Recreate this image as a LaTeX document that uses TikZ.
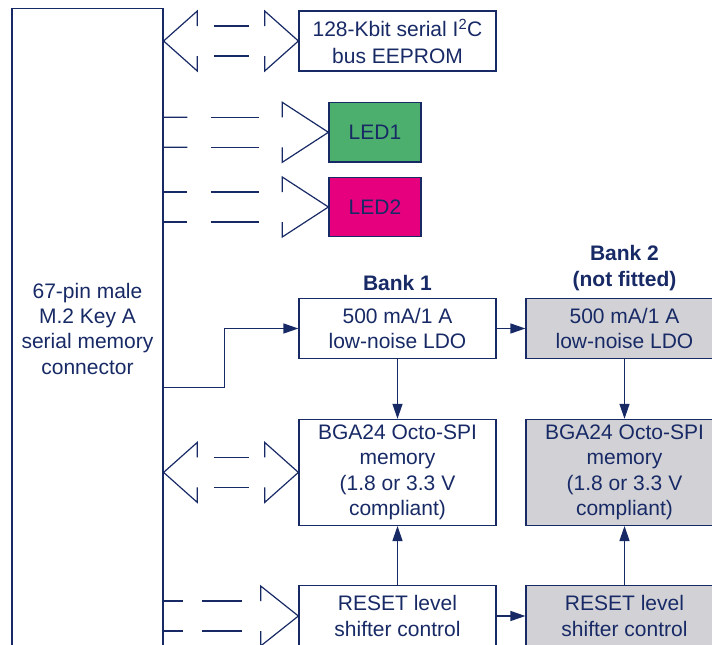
\documentclass[tikz,border=0pt]{standalone}
\usepackage{fontspec}
\setmainfont{Liberation Sans}
\usepackage{tikz}
\usetikzlibrary{positioning,calc,arrows.meta}
\definecolor{stnavy}{RGB}{24,42,102}
\definecolor{ledgreen}{RGB}{76,175,110}
\definecolor{ledpink}{RGB}{230,0,126}
\definecolor{nfgray}{RGB}{210,210,214}

\begin{document}
\begin{tikzpicture}[
    x=1pt, y=-1pt,
    font=\fontsize{21}{25.5}\selectfont,
    every node/.style={text=stnavy},
    block/.style={rectangle, draw=stnavy, line width=1.2pt, fill=white, align=center, minimum width=197pt, inner sep=0pt},
    unfitted/.style={block, fill=nfgray},
    led/.style={rectangle, draw=stnavy, line width=1.2pt, minimum width=92pt, minimum height=59.5pt},
    arrow/.style={-{Triangle[length=15pt, width=10pt]}, draw=stnavy, line width=1.2pt},
    bus/.style={draw=stnavy, line width=1.2pt},
    bank/.style={font=\fontsize{21}{25.7}\selectfont\bfseries, align=center}
]
\useasboundingbox (0,0) rectangle (712,645);
\clip (0,0) rectangle (712,645);

% Connector
\node[block, minimum width=151pt, minimum height=640pt, font=\fontsize{21}{25.3}\selectfont] (conn) at (87.5,328.7) {67-pin male\\M.2 Key A\\serial memory\\connector};

% EEPROM and LEDs
\node[block, minimum height=60pt, font=\fontsize{21}{26.5}\selectfont] (eeprom) at (397.5,41) {128-Kbit serial I\textsuperscript{2}C\\bus EEPROM};
\node[led, fill=ledgreen] (led1) at (375,132.3) {LED1};
\node[led, fill=ledpink] (led2) at (375,207) {LED2};

% Bank 1
\node[bank] (bank1) at (397.5,283.3) {Bank 1};
\node[block, minimum height=60pt] (ldo1) at (397.5,328.5) {500 mA/1 A\\low-noise LDO};
\node[block, minimum height=106pt] (bga1) at (397.5,472.4) {BGA24 Octo-SPI\\memory\\(1.8 or 3.3 V\\compliant)};
\node[block, minimum height=61pt] (rst1) at (397.5,616) {RESET level\\shifter control};

% Bank 2
\node[bank] (bank2) at (624.5,268) {Bank 2\\(not fitted)};
\node[unfitted, minimum height=60pt] (ldo2) at (624.5,328.5) {500 mA/1 A\\low-noise LDO};
\node[unfitted, minimum height=106pt] (bga2) at (624.5,472.4) {BGA24 Octo-SPI\\memory\\(1.8 or 3.3 V\\compliant)};
\node[unfitted, minimum height=61pt] (rst2) at (624.5,616) {RESET level\\shifter control};

% Power and reset paths
\coordinate (tap) at (conn.east |- 0,387.7);
\draw[arrow] (tap) -- ++(61,0) |- (ldo1.west);
\draw[arrow] (ldo1) -- (ldo2);
\draw[arrow] (ldo1) -- (bga1);
\draw[arrow] (ldo2) -- (bga2);
\draw[arrow] (rst1) -- (bga1);
\draw[arrow] (rst2) -- (bga2);
\draw[arrow] (rst1) -- (rst2);

% Bidirectional buses
\foreach \dest/\hh/\sh in {eeprom/30/15, bga1/30/15} {
  \coordinate (l) at (conn.east |- \dest.west);
  \coordinate (r) at (\dest.west);
  \draw[bus] ($(l)!0.25!(r)+(0,-\sh)$) -- ++(0,\sh-\hh) -- (l) -- ($(l)!0.25!(r)+(0,\hh)$) -- ++(0,\sh-\hh);
  \draw[bus] ($(l)!0.75!(r)+(0,-\sh)$) -- ++(0,\sh-\hh) -- (r) -- ($(l)!0.75!(r)+(0,\hh)$) -- ++(0,\sh-\hh);
  \foreach \s in {-1,1}
    \draw[bus] ($(l)!0.375!(r)+(0,\s*\sh)$) -- ($(l)!0.632!(r)+(0,\s*\sh)$);
}

% Output buses
\foreach \dest/\hh/\sh in {led1/30/15, led2/30/15, rst1/30/15} {
  \coordinate (l) at (conn.east |- \dest.west);
  \coordinate (r) at (\dest.west);
  \draw[bus] ($(l)!0.72!(r)+(0,-\sh)$) -- ++(0,\sh-\hh) -- (r) -- ($(l)!0.72!(r)+(0,\hh)$) -- ++(0,\sh-\hh);
  \foreach \s in {-1,1} {
    \draw[bus] ($(l)+(0,\s*\sh)$) -- ($(l)!0.145!(r)+(0,\s*\sh)$);
    \draw[bus] ($(l)!0.285!(r)+(0,\s*\sh)$) -- ($(l)!0.58!(r)+(0,\s*\sh)$);
  }
}

\end{tikzpicture}
\end{document}
